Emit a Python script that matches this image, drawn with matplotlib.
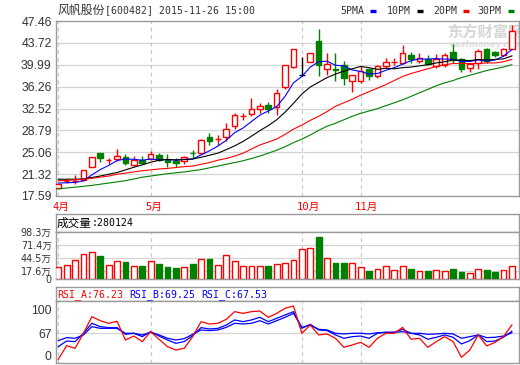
"""
K-line chart: 风帆股份 daily candles with MA lines, volume and RSI panels
"""

import matplotlib
matplotlib.use("Agg")
import matplotlib.pyplot as plt
from matplotlib.patches import Rectangle
from matplotlib.lines import Line2D

W, H = 520, 365

# ---- data ----
opens = [19.0, 20.0, 20.0, 20.3, 22.6, 24.9, 23.6, 23.9, 24.2, 22.8, 23.8, 23.9, 24.6, 23.7, 23.5,
         23.5, 25.0, 24.9, 27.7, 27.3, 27.6, 29.5, 31.1, 31.6, 32.4, 33.2, 32.7, 36.2, 39.6, 38.3,
         40.5, 44.1, 39.3, 39.3, 40.0, 37.2, 37.2, 39.2, 38.0, 39.7, 40.3, 40.3, 41.7, 40.6, 40.9,
         39.7, 40.0, 42.1, 40.9, 39.5, 40.3, 42.7, 42.1, 41.7, 42.7]
highs = [19.7, 20.4, 21.2, 22.1, 24.2, 24.9, 24.0, 25.6, 24.7, 24.5, 24.5, 25.3, 25.0, 24.7, 24.1,
         24.5, 25.4, 27.3, 28.4, 28.0, 30.1, 31.8, 31.8, 34.4, 33.5, 33.6, 35.8, 40.0, 42.6, 41.3,
         42.0, 46.1, 42.0, 42.0, 40.6, 38.2, 39.7, 39.5, 40.0, 41.1, 41.1, 43.4, 42.1, 42.0, 41.6,
         41.8, 42.0, 43.6, 41.2, 40.3, 42.7, 42.9, 42.3, 42.8, 46.8]
lows = [18.9, 19.8, 19.6, 20.2, 22.5, 23.4, 23.0, 23.6, 22.9, 22.7, 23.1, 23.7, 23.6, 22.6, 22.5,
        23.0, 24.1, 24.7, 26.3, 26.3, 26.9, 29.1, 30.6, 31.3, 31.8, 31.8, 31.5, 35.8, 39.5, 38.1,
        40.5, 38.0, 38.2, 37.2, 36.5, 35.3, 36.9, 37.4, 37.8, 39.5, 40.0, 40.2, 40.3, 40.3, 40.0,
        39.5, 39.6, 40.3, 38.7, 38.7, 39.3, 40.3, 41.4, 41.5, 42.6]
closes = [19.6, 20.1, 20.1, 22.0, 24.2, 24.0, 23.7, 24.4, 23.3, 23.8, 23.3, 24.7, 23.7, 23.4, 23.3,
          24.2, 24.9, 27.1, 27.0, 27.4, 29.0, 31.5, 31.2, 32.4, 32.9, 32.5, 35.2, 40.0, 42.6, 38.3,
          42.0, 40.0, 40.2, 39.1, 37.8, 38.2, 38.9, 38.0, 39.7, 40.5, 40.4, 42.0, 40.9, 41.2, 40.2,
          40.9, 41.6, 40.8, 39.2, 40.2, 42.3, 40.6, 41.6, 42.6, 45.7]

ma5 = [19.8, 19.85, 19.9, 20.2, 21.2, 22.1, 22.8, 23.65, 23.9, 23.85, 23.7, 23.9, 23.75, 23.8, 23.7,
       23.85, 23.9, 24.6, 25.3, 26.1, 27.1, 28.4, 29.2, 30.3, 31.4, 32.1, 32.85, 34.6, 36.9, 38.0,
       39.6, 40.5, 40.6, 39.9, 39.8, 39.1, 38.85, 38.4, 38.5, 39.05, 39.5, 40.1, 40.7, 41.0, 40.95,
       41.05, 40.95, 40.95, 40.55, 40.55, 40.8, 40.6, 40.8, 41.45, 42.55]
ma10 = [20.45, 20.45, 20.45, 20.5, 20.75, 21.0, 21.3, 21.6, 22.05, 22.5, 22.9, 23.35, 23.7, 23.85,
        23.75, 23.8, 23.9, 24.2, 24.55, 24.9, 25.5, 26.15, 26.9, 27.8, 28.75, 29.6, 30.6, 31.9, 33.4,
        35.0, 36.2, 37.0, 37.8, 38.4, 38.9, 39.3, 39.7, 39.5, 39.2, 39.4, 39.3, 39.5, 39.6, 39.8,
        40.0, 40.3, 40.5, 40.8, 40.8, 40.7, 40.9, 40.8, 40.9, 41.0, 41.5]
ma20 = [20.2, 20.25, 20.35, 20.45, 20.6, 20.8, 21.0, 21.3, 21.5, 21.7, 21.9, 22.05, 22.2, 22.3, 22.45,
        22.6, 22.7, 23.0, 23.3, 23.7, 24.0, 24.4, 24.9, 25.6, 26.3, 26.8, 27.3, 28.1, 29.0, 29.7,
        30.5, 31.2, 32.0, 32.9, 33.5, 34.1, 34.8, 35.4, 36.0, 36.6, 37.3, 38.0, 38.5, 38.9, 39.3,
        39.7, 40.0, 40.2, 40.2, 40.2, 40.2, 40.3, 40.3, 40.5, 40.9]
ma30 = [18.8, 18.95, 19.1, 19.25, 19.4, 19.6, 19.8, 20.0, 20.2, 20.5, 20.8, 21.0, 21.2, 21.4, 21.55,
        21.7, 21.9, 22.1, 22.4, 22.7, 23.0, 23.3, 23.6, 24.0, 24.4, 24.9, 25.4, 26.0, 26.7, 27.3,
        28.0, 28.8, 29.5, 30.0, 30.6, 31.2, 31.7, 32.1, 32.5, 33.0, 33.5, 34.0, 34.6, 35.2, 35.8,
        36.4, 36.9, 37.3, 37.8, 38.2, 38.6, 39.0, 39.3, 39.6, 40.0]

# volume in 万
volume = [24.5, 28.7, 39.7, 51.7, 55.9, 48.1, 28.7, 37.7, 35.6, 26.6, 26.6, 37.0, 31.4, 25.1, 23.0,
          24.5, 31.4, 41.2, 41.8, 29.3, 49.6, 37.7, 27.2, 27.2, 27.2, 27.2, 31.4, 33.5, 39.7, 62.8,
          64.9, 87.9, 43.9, 33.5, 33.5, 33.5, 25.1, 16.7, 20.3, 26.6, 18.8, 26.6, 20.9, 16.7, 16.7,
          18.8, 16.7, 20.9, 14.6, 11.9, 20.3, 18.8, 14.6, 18.8, 28.0]

rsi_a = [38.2, 53.3, 50.4, 67.0, 85.5, 81.0, 78.1, 80.3, 59.6, 64.0, 57.8, 68.8, 60.4, 52.2, 48.5,
         50.4, 63.3, 79.9, 77.3, 78.1, 82.5, 91.0, 89.1, 91.0, 91.7, 84.7, 89.1, 94.7, 97.3, 67.0,
         76.2, 65.2, 66.3, 61.5, 51.5, 54.1, 57.0, 51.5, 61.5, 67.0, 67.0, 73.6, 60.4, 61.5, 51.5,
         57.8, 63.3, 57.8, 40.4, 48.5, 65.2, 53.0, 57.0, 63.3, 76.23]
rsi_b = [52.2, 58.5, 57.8, 67.0, 78.1, 74.4, 73.3, 73.3, 65.9, 67.0, 63.3, 68.8, 64.0, 59.6, 55.9,
         57.8, 64.4, 73.3, 71.8, 72.5, 76.2, 81.8, 79.9, 81.8, 84.7, 79.9, 83.6, 87.3, 91.0, 72.5,
         77.0, 70.7, 70.0, 65.2, 61.5, 63.3, 64.0, 61.5, 67.0, 68.1, 68.1, 71.4, 67.0, 65.2, 60.4,
         62.6, 65.2, 62.6, 55.2, 58.9, 65.2, 57.8, 58.5, 62.6, 69.25]
rsi_c = [58.9, 62.2, 61.5, 65.2, 74.4, 72.5, 72.5, 72.5, 67.0, 67.0, 65.2, 68.1, 65.2, 61.5, 59.6,
         61.1, 65.9, 70.7, 70.0, 70.7, 73.6, 78.1, 77.3, 78.1, 81.0, 77.3, 81.0, 84.7, 89.1, 73.6,
         76.2, 71.4, 70.7, 67.0, 66.3, 67.0, 67.0, 66.3, 67.7, 68.1, 68.1, 68.8, 67.0, 67.0, 65.9,
         66.3, 67.0, 66.3, 61.5, 63.3, 65.2, 62.2, 62.6, 64.0, 67.53]

month_labels = ["4月", "5月", "10月", "11月"]
month_start = [0, 11, 29, 36]

price_ticks = [17.59, 21.32, 25.06, 28.79, 32.52, 36.26, 39.99, 43.72, 47.46]
vol_ticks = [0, 17.6, 44.5, 71.4, 98.3]
vol_tick_labels = ["0", "17.6万", "44.5万", "71.4万", "98.3万"]
rsi_ticks = [41.9, 67, 93.6]
rsi_tick_labels = ["0", "67", "100"]

RED = "#ff0000"
GREEN = "#008000"
BLUE = "#0000ff"
FRAME = "#9a9a9a"
GRID = "#d4d4d4"
TXT = "#333333"
CJK = ["DejaVu Sans", "Noto Sans CJK SC"]
MONO = ["DejaVu Sans Mono", "Noto Sans CJK SC"]

XLIM = (-0.27, 54.85)


def px_axes(fig, left, top, right, bottom):
    # axes placed in pixel coordinates of the 520x365 canvas
    return fig.add_axes([left / W, 1 - bottom / H, (right - left) / W, (bottom - top) / H])


def style_frame(ax):
    for s in ax.spines.values():
        s.set_color(FRAME)
        s.set_linewidth(1.0)
    ax.tick_params(length=0, colors=TXT, pad=3)
    ax.set_xlim(*XLIM)
    ax.set_xticks([])


def month_lines(ax):
    for m in month_start:
        ax.axvline(m, color="#c8c8c8", lw=0.9, ls=(0, (3, 3)), zorder=0)


def draw_chart():
    fig = plt.figure(figsize=(W / 100, H / 100), dpi=100)
    fig.patch.set_facecolor("white")
    n = len(closes)
    xs = list(range(n))

    # ---------------- price panel ----------------
    ax = px_axes(fig, 56, 21, 519, 196)
    style_frame(ax)
    ax.set_ylim(17.59, 47.46)
    ax.set_yticks(price_ticks)
    ax.set_yticklabels([f"{t:.2f}" for t in price_ticks], family="Liberation Sans", fontsize=8.8)
    for t in price_ticks[1:-1]:
        ax.axhline(t, color=GRID, lw=0.9, zorder=0)
    month_lines(ax)

    bw = 0.66
    for i in xs:
        o, h, l, c = opens[i], highs[i], lows[i], closes[i]
        if c > o:
            col = RED
        elif c < o:
            col = GREEN
        else:
            col = "black"
        ax.vlines(i, l, h, color=col, lw=1.0, zorder=3)
        lo, hi = min(o, c), max(o, c)
        if hi - lo < 0.12:
            ax.hlines(c, i - bw / 2, i + bw / 2, color=col, lw=1.0, zorder=4)
        else:
            face = "white" if c > o else col
            ax.add_patch(Rectangle((i - bw / 2, lo), bw, hi - lo, facecolor=face,
                                   edgecolor=col, lw=1.0, zorder=4))

    ax.plot(xs, ma5, color=BLUE, lw=0.8, zorder=5)
    ax.plot(xs, ma10, color="black", lw=0.8, zorder=5)
    ax.plot(xs, ma20, color=RED, lw=0.8, zorder=5)
    ax.plot(xs, ma30, color=GREEN, lw=0.8, zorder=5)

    # watermark (cut by the right edge, as in the original)
    ax.text(0.845, 0.935, "东方财富网", transform=ax.transAxes, family=CJK, fontsize=11,
            fontweight="bold", color="#d6d6d6", va="center", ha="left", zorder=1, clip_on=True)
    ax.text(0.85, 0.865, "eastmoney.com", transform=ax.transAxes, fontsize=6, style="italic",
            fontweight="bold", color="#dedede", va="center", ha="left", zorder=1, clip_on=True)

    # month labels under the price panel
    for lab, m in zip(month_labels, month_start):
        ax.annotate(lab, xy=(m - 0.65, 0), xycoords=("data", "axes fraction"),
                    xytext=(0, -7.8), textcoords="offset points", color=RED,
                    family=MONO, fontsize=7.6, ha="left", va="center", annotation_clip=False)

    # title and legend
    fig.text(57 / W, 1 - 10.5 / H, "风帆股份", family=CJK, fontsize=8.6, color=TXT, va="center")
    fig.text(105 / W, 1 - 10.5 / H, "[600482] 2015-11-26 15:00", family=MONO, fontsize=7.1,
             color=TXT, va="center")
    legend = [("5PMA", 340, BLUE, 370), ("10PM", 387, "black", 417),
              ("20PM", 433, RED, 463), ("30PM", 477, GREEN, 508)]
    for lab, xt, col, xd in legend:
        fig.text(xt / W, 1 - 10.5 / H, lab, family=MONO, fontsize=7.1, color=TXT, va="center")
        fig.add_artist(Line2D([xd / W, (xd + 6) / W], [1 - 10.8 / H, 1 - 10.8 / H],
                              transform=fig.transFigure, color=col, lw=2.4,
                              solid_capstyle="butt"))

    # ---------------- volume panel ----------------
    vh = px_axes(fig, 56, 214, 519, 232)
    style_frame(vh)
    vh.set_yticks([])
    vh.text(57 / W, 1 - 223.5 / H, "成交量", transform=fig.transFigure, family=CJK,
            fontsize=8.4, color="black", va="center")
    vh.text(92 / W, 1 - 223.5 / H, ":280124", transform=fig.transFigure, family=MONO,
            fontsize=7.1, color="black", va="center")

    av = px_axes(fig, 56, 232, 519, 279)
    style_frame(av)
    av.set_ylim(0, 98.3)
    av.set_yticks(vol_ticks)
    av.set_yticklabels(vol_tick_labels, family=CJK, fontsize=6.9)
    for t in vol_ticks[1:-1]:
        av.axhline(t, color=GRID, lw=0.9, zorder=0)
    month_lines(av)
    vw = 0.7
    for i in xs:
        if closes[i] >= opens[i]:
            av.add_patch(Rectangle((i - vw / 2, 0), vw, volume[i], facecolor="white",
                                   edgecolor=RED, lw=1.0, zorder=3))
        else:
            av.add_patch(Rectangle((i - vw / 2, 0), vw, volume[i], facecolor=GREEN,
                                   edgecolor=GREEN, lw=1.0, zorder=3))

    # ---------------- RSI panel ----------------
    rh = px_axes(fig, 56, 287, 519, 301)
    style_frame(rh)
    rh.set_yticks([])
    heads = [("RSI_A:76.23", RED, 57), ("RSI_B:69.25", BLUE, 129), ("RSI_C:67.53", BLUE, 201)]
    for lab, col, xt in heads:
        rh.text(xt / W, 1 - 294.5 / H, lab, transform=fig.transFigure, family=MONO,
                fontsize=7.1, color=col, va="center")

    ar = px_axes(fig, 56, 301, 519, 363)
    style_frame(ar)
    ar.set_ylim(34.1, 102.8)
    ar.set_yticks(rsi_ticks)
    ar.set_yticklabels(rsi_tick_labels, family="Liberation Sans", fontsize=8.8)
    ar.axhline(67, color=GRID, lw=0.9, zorder=0)
    month_lines(ar)
    ar.plot(xs, rsi_c, color=BLUE, lw=0.9, zorder=3)
    ar.plot(xs, rsi_b, color=BLUE, lw=0.9, zorder=3)
    ar.plot(xs, rsi_a, color=RED, lw=0.9, zorder=4)

    fig.savefig("out.png", dpi=100, facecolor="white")


if __name__ == "__main__":
    draw_chart()
